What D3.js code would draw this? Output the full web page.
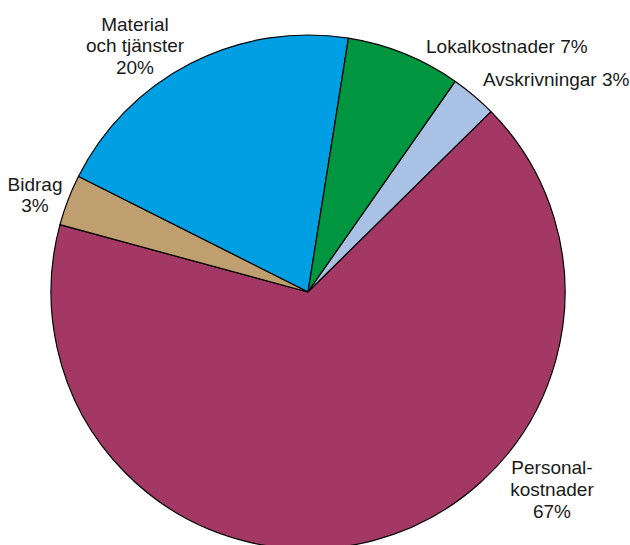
<!DOCTYPE html>
<html>
<head>
    <meta charset="utf-8" />
    <title>Kostnader</title>
    <style>
        body { margin: 0; background: #fff; }
        text { font-family: "Liberation Sans", Arial, Helvetica, sans-serif; font-size: 19px; fill: #1a1a1a; }
    </style>
</head>
<body>
<script src="https://d3js.org/d3.v7.min.js"></script>
<script>
    // slices, clockwise starting at the Material slice
    var categories = ["Material och tjänster", "Lokalkostnader", "Avskrivningar", "Personalkostnader", "Bidrag"];
    var shares = [20.1, 7.2, 2.9, 66.6, 3.2];
    var shareLabels = ["20%", "7%", "3%", "67%", "3%"];
    var colors = ["#009fe3", "#00963f", "#a8c1e5", "#a33864", "#bf9e70"];

    var width = 630;
    var height = 545;
    var cx = 308, cy = 292, radius = 257;
    var startDeg = -63.3;

    // label layout: lines of text, anchor point, line height
    var labelLayout = [
        {lines: ["Material", "och tjänster", shareLabels[0]], x: 135, y: 30.5, anchor: "middle"},
        {lines: ["Lokalkostnader " + shareLabels[1]], x: 426, y: 52.5, anchor: "start"},
        {lines: ["Avskrivningar " + shareLabels[2]], x: 483, y: 86, anchor: "start"},
        {lines: ["Personal-", "kostnader", shareLabels[3]], x: 552, y: 474, anchor: "middle"},
        {lines: ["Bidrag", shareLabels[4]], x: 35, y: 190.5, anchor: "middle"}
    ];

    var svg = d3.select("body").append("svg")
                .attr("width", width)
                .attr("height", height);

    var startAngle = startDeg * Math.PI / 180;
    var pie = d3.pie()
                .sort(null)
                .startAngle(startAngle)
                .endAngle(startAngle + 2 * Math.PI);

    var arc = d3.arc()
                .innerRadius(0)
                .outerRadius(radius);

    var pieGroup = svg.append("g")
                      .attr("transform", "translate(" + cx + "," + cy + ")");

    pieGroup.selectAll("path")
            .data(pie(shares))
            .enter().append("path")
            .attr("d", arc)
            .attr("fill", (d, i) => colors[i])
            .attr("stroke", "#000")
            .attr("stroke-width", 1.2)
            .attr("stroke-linejoin", "round");

    var labels = svg.append("g");
    labelLayout.forEach(function(l) {
        var t = labels.append("text")
                      .attr("text-anchor", l.anchor);
        l.lines.forEach(function(line, j) {
            t.append("tspan")
             .attr("x", l.x)
             .attr("y", l.y + j * 21.8)
             .text(line);
        });
    });
</script>
</body>
</html>
